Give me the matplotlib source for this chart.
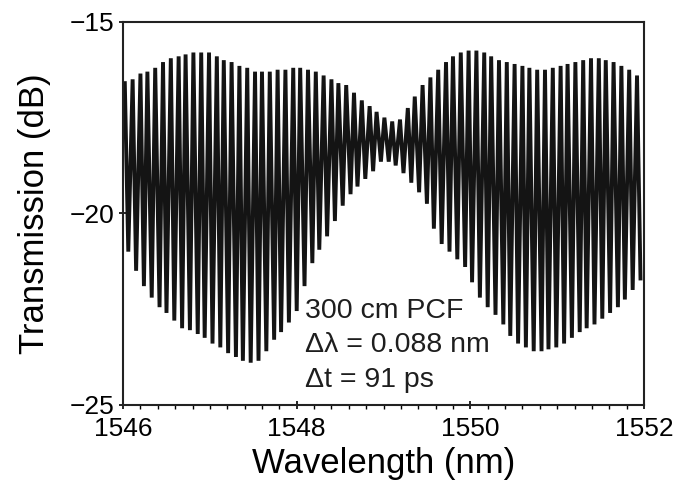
import matplotlib
matplotlib.use('Agg')
import matplotlib.pyplot as plt
from matplotlib.ticker import MultipleLocator

# fringe maxima (nm, dB)
peak_wl = [1546.02, 1546.11, 1546.20, 1546.28, 1546.37, 1546.46, 1546.55, 1546.64,
           1546.72, 1546.81, 1546.90, 1546.99, 1547.08, 1547.16, 1547.25, 1547.34,
           1547.43, 1547.52, 1547.60, 1547.69, 1547.78, 1547.87, 1547.96, 1548.04,
           1548.13, 1548.22, 1548.31, 1548.40, 1548.48, 1548.57, 1548.66, 1548.75,
           1548.84, 1548.92, 1549.01, 1549.10, 1549.19, 1549.28, 1549.36, 1549.45,
           1549.54, 1549.63, 1549.72, 1549.80, 1549.89, 1549.98, 1550.07, 1550.16,
           1550.24, 1550.33, 1550.42, 1550.51, 1550.60, 1550.68, 1550.77, 1550.86,
           1550.95, 1551.04, 1551.12, 1551.21, 1551.30, 1551.39, 1551.48, 1551.56,
           1551.65, 1551.74, 1551.83, 1551.92]
peak_db = [-16.6, -16.5, -16.35, -16.3, -16.2, -16.05, -15.95, -15.9,
           -15.85, -15.8, -15.8, -15.8, -15.9, -16.0, -16.05, -16.15,
           -16.2, -16.3, -16.3, -16.3, -16.25, -16.25, -16.2, -16.2,
           -16.25, -16.3, -16.4, -16.5, -16.6, -16.65, -16.85, -17.05,
           -17.2, -17.35, -17.5, -17.6, -17.55, -17.25, -16.95, -16.65,
           -16.45, -16.25, -16.05, -15.9, -15.8, -15.75, -15.75, -15.8,
           -15.9, -16.0, -16.05, -16.1, -16.15, -16.2, -16.25, -16.25,
           -16.2, -16.15, -16.1, -16.05, -16.0, -15.95, -15.95, -16.0,
           -16.05, -16.15, -16.25, -16.4]

# fringe minima
dip_wl = [1546.06, 1546.15, 1546.24, 1546.33, 1546.42, 1546.50, 1546.59, 1546.68,
          1546.77, 1546.86, 1546.94, 1547.03, 1547.12, 1547.21, 1547.30, 1547.38,
          1547.47, 1547.56, 1547.65, 1547.74, 1547.82, 1547.91, 1548.00, 1548.09,
          1548.18, 1548.26, 1548.35, 1548.44, 1548.53, 1548.62, 1548.70, 1548.79,
          1548.88, 1548.97, 1549.06, 1549.14, 1549.23, 1549.32, 1549.41, 1549.50,
          1549.58, 1549.67, 1549.76, 1549.85, 1549.94, 1550.02, 1550.11, 1550.20,
          1550.29, 1550.38, 1550.46, 1550.55, 1550.64, 1550.73, 1550.82, 1550.90,
          1550.99, 1551.08, 1551.17, 1551.26, 1551.34, 1551.43, 1551.52, 1551.61,
          1551.70, 1551.78, 1551.87, 1551.96]
dip_db = [-21.0, -21.5, -21.9, -22.2, -22.45, -22.6, -22.8, -23.0,
          -23.05, -23.15, -23.25, -23.4, -23.5, -23.65, -23.75, -23.85,
          -23.9, -23.85, -23.6, -23.3, -23.1, -22.85, -22.55, -21.9,
          -21.3, -20.95, -20.6, -20.2, -19.8, -19.5, -19.3, -19.1,
          -18.9, -18.65, -18.65, -18.75, -18.95, -19.2, -19.45, -19.75,
          -20.4, -20.8, -21.0, -21.2, -21.4, -21.8, -22.2, -22.45,
          -22.65, -22.9, -23.2, -23.4, -23.5, -23.6, -23.6, -23.55,
          -23.5, -23.4, -23.25, -23.1, -23.0, -22.9, -22.75, -22.6,
          -22.45, -22.25, -22.0, -21.7]

notes = ['300 cm PCF', '\u0394\u03bb = 0.088 nm', '\u0394t = 91 ps']

# interleave maxima and minima into one trace
wl = []
tr = []
for pw, pd_, dw, dd in zip(peak_wl, peak_db, dip_wl, dip_db):
    wl += [pw, dw]
    tr += [pd_, dd]

plt.rcParams['font.family'] = ['Liberation Sans', 'DejaVu Sans']

fig = plt.figure(figsize=(6.8, 4.86), dpi=100)
ax = fig.add_axes([0.181, 0.167, 0.766, 0.788])
ax.plot(wl, tr, color='#141414', linewidth=2.8, solid_joinstyle='miter')

ax.set_xlim(1546, 1552)
ax.set_ylim(-25, -15)
ax.set_xticks([1546, 1548, 1550, 1552])
ax.set_yticks([-25, -20, -15])
ax.xaxis.set_minor_locator(MultipleLocator(0.2))
ax.tick_params(axis='both', which='major', direction='inout', length=6,
               width=1.2, labelsize=19)
ax.tick_params(axis='x', which='major', pad=6)
ax.tick_params(axis='y', which='major', pad=3)
ax.tick_params(axis='x', which='minor', direction='out', length=3, width=1)
for s in ax.spines.values():
    s.set_linewidth(1.5)
    s.set_color('#222222')

ax.set_xlabel('Wavelength (nm)', fontsize=25, labelpad=4)
ax.set_ylabel('Transmission (dB)', fontsize=25, labelpad=14)

ypos = [-22.55, -23.45, -24.35]
for t, yy in zip(notes, ypos):
    ax.text(1548.1, yy, t, fontsize=20.5, va='center', ha='left',
            color='#1e1e1e')

fig.savefig('out.png', dpi=100)
